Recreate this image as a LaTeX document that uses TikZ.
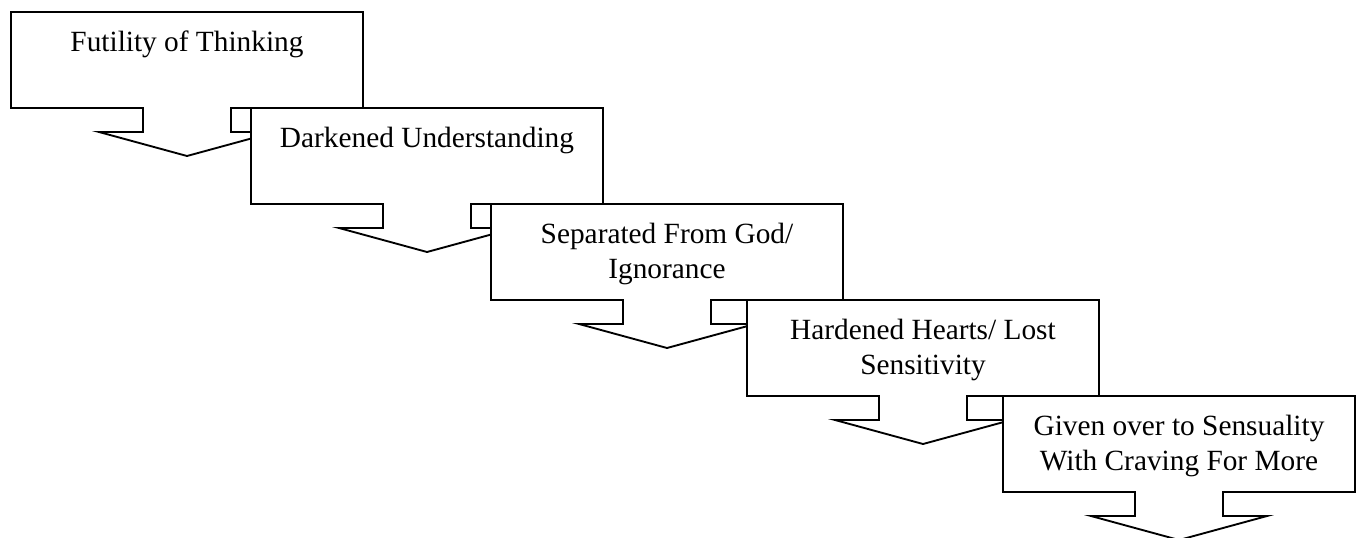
\documentclass[tikz,border=0pt]{standalone}
\usepackage{fontspec}
\setmainfont{Liberation Serif}

\begin{document}
\begin{tikzpicture}[x=0.75pt,y=-0.75pt,line width=1.4pt,line join=miter,
    stepshape/.style={draw,fill=white},
    steptext/.style={anchor=north,inner sep=0pt,align=center,font=\fontsize{22}{26.25}\selectfont}]

                \useasboundingbox (0,0) rectangle (1361,537);

                % each step: a box with its arrow, drawn in order so the next box covers the arrow
                \foreach \L/\T/\txt [count=\i] in {11/12/{Futility of Thinking},
                                                  251/108/{Darkened Understanding},
                                                  491/204/{Separated From God/\\Ignorance},
                                                  747/300/{Hardened Hearts/ Lost\\Sensitivity},
                                                  1003/396/{Given over to Sensuality\\With Craving For More}}
                {
                \draw[stepshape] (\L,\T) -- ++(352,0) -- ++(0,96) -- ++(-132,0) -- ++(0,24) -- ++(44,0)
                    -- ++(-88,24) -- ++(-88,-24) -- ++(44,0) -- ++(0,-24) -- ++(-132,0) -- cycle;
                \node[steptext] (\i) at (\L+176,\T+18) {\txt};
                }

                ;
            \end{tikzpicture}
\end{document}
